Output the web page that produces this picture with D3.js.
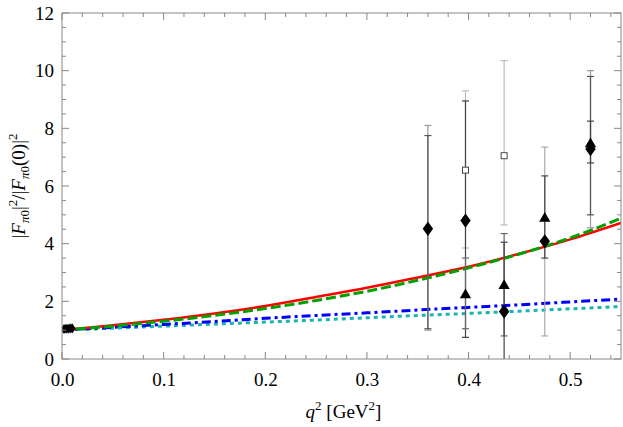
<!DOCTYPE html>
<html><head><meta charset="utf-8">
<script src="https://cdn.jsdelivr.net/npm/d3@7"></script>
<style>body{margin:0;background:#fff}svg{display:block}</style>
</head><body><svg id="c" width="623" height="427"></svg>
<script>
// ---- data ----
const qGrid   = [0, 0.05, 0.1, 0.15, 0.2, 0.25, 0.3, 0.35, 0.4, 0.45, 0.5, 0.55];
const redVals   = [1.0, 1.17, 1.36, 1.58, 1.84, 2.15, 2.47, 2.83, 3.20, 3.65, 4.15, 4.72];
const greenVals = [1.0, 1.14, 1.31, 1.51, 1.75, 2.03, 2.35, 2.73, 3.16, 3.64, 4.20, 4.88];
const blueVals  = [1.0, 1.10, 1.20, 1.30, 1.41, 1.51, 1.60, 1.70, 1.79, 1.88, 1.98, 2.08];
const cyanVals  = [1.0, 1.07, 1.14, 1.21, 1.28, 1.35, 1.43, 1.51, 1.58, 1.66, 1.74, 1.82];

// error bars: q2, low, high, shade
const errQ     = [0.360, 0.360, 0.397, 0.397, 0.397, 0.435, 0.435, 0.435, 0.475, 0.475, 0.520, 0.520, 0.520];
const errLo    = [1.00,  1.05,  3.85,  0.75,  1.05,  4.65,  0.80, -0.50,  0.80,  3.50,  4.55,  5.00,  6.80];
const errHi    = [8.10,  7.75,  9.30,  8.95,  3.50, 10.35,  4.35,  4.05,  7.35,  6.35, 10.00,  9.80,  8.25];
const errShade = ["#999","#555","#bbb","#444","#666","#bbb","#666","#444","#aaa","#444","#999","#555","#444"];

const diamondQ = [0.360, 0.397, 0.435, 0.475, 0.520];
const diamondV = [4.52, 4.80, 1.65, 4.08, 7.28];
const triQ     = [0.397, 0.435, 0.475, 0.520];
const triV     = [2.22, 2.54, 4.87, 7.46];
const squareQ  = [0.397, 0.435];
const squareV  = [6.55, 7.05];
const lowQ     = [0.002, 0.004, 0.006, 0.008, 0.010];
const lowV     = [1.04, 1.05, 1.05, 1.06, 1.06];

const xTicks = [0.0, 0.1, 0.2, 0.3, 0.4, 0.5];
const yTicks = [0, 2, 4, 6, 8, 10, 12];

// ---- layout ----
const svg = d3.select("#c");
const L = 62, R = 621, T = 13, B = 359;
const x = d3.scaleLinear().domain([0, 0.55]).range([L, R]);
const y = d3.scaleLinear().domain([0, 12]).range([B, T]);
const font = "'Liberation Serif', 'Times New Roman', serif";
const frameCol = "#888";

const defs = svg.append("defs");
defs.append("clipPath").attr("id","clip").append("rect")
  .attr("x", L).attr("y", T).attr("width", R-L).attr("height", B-T);

const plot = svg.append("g").attr("clip-path","url(#clip)");

// curves
const line = d3.line().x(d => x(d[0])).y(d => y(d[1])).curve(d3.curveMonotoneX);
const series = [
  {v: cyanVals,  c: "#1ab3b3", w: 3,   dash: "4,4"},
  {v: blueVals,  c: "#0000ff", w: 3,   dash: "9,4,3,4"},
  {v: redVals,   c: "#ff0000", w: 2.5, dash: null},
  {v: greenVals, c: "#00a000", w: 3,   dash: "10,4"}
];
series.forEach(s => {
  plot.append("path").datum(qGrid.map((q,i)=>[q, s.v[i]]))
    .attr("d", line).attr("fill","none").attr("stroke", s.c)
    .attr("stroke-width", s.w).attr("stroke-dasharray", s.dash);
});

// error bars
errQ.forEach((q,i) => {
  const g = plot.append("g").attr("stroke", errShade[i]).attr("stroke-width", 1.2);
  g.append("line").attr("x1", x(q)).attr("x2", x(q)).attr("y1", y(errLo[i])).attr("y2", y(errHi[i]));
  [errLo[i], errHi[i]].forEach(v => {
    g.append("line").attr("x1", x(q)-3.5).attr("x2", x(q)+3.5).attr("y1", y(v)).attr("y2", y(v));
  });
});

// markers
const sym = (type, size) => d3.symbol().type(type).size(size)();
diamondQ.forEach((q,i) => {
  plot.append("path").attr("d", sym(d3.symbolDiamond, 60))
    .attr("transform", `translate(${x(q)},${y(diamondV[i])}) scale(1.25,1)`).attr("fill","#000");
});
triQ.forEach((q,i) => {
  plot.append("path").attr("d", sym(d3.symbolTriangle, 55))
    .attr("transform", `translate(${x(q)},${y(triV[i])})`).attr("fill","#000");
});
squareQ.forEach((q,i) => {
  plot.append("rect").attr("x", x(q)-3).attr("y", y(squareV[i])-3).attr("width",6).attr("height",6)
    .attr("fill","#fff").attr("stroke","#444").attr("stroke-width",1);
});
lowQ.forEach((q,i) => {
  plot.append("line").attr("x1", x(q)).attr("x2", x(q)).attr("y1", y(lowV[i]-0.1)).attr("y2", y(lowV[i]+0.1))
    .attr("stroke","#000").attr("stroke-width",1.2);
  plot.append("path").attr("d", sym(d3.symbolDiamond, 30))
    .attr("transform", `translate(${x(q)},${y(lowV[i])}) scale(1.2,1)`).attr("fill","#000");
});

// frame
svg.append("rect").attr("x", L).attr("y", T).attr("width", R-L).attr("height", B-T)
  .attr("fill","none").attr("stroke", frameCol).attr("stroke-width",1);

// ticks (inward, all sides)
const tg = svg.append("g").attr("stroke", frameCol).attr("stroke-width",1);
d3.range(0, 0.5501, 0.02).forEach(q => {
  const major = Math.abs(q*10 - Math.round(q*10)) < 1e-6;
  const len = major ? 7 : 4;
  tg.append("line").attr("x1", x(q)).attr("x2", x(q)).attr("y1", B).attr("y2", B-len);
  tg.append("line").attr("x1", x(q)).attr("x2", x(q)).attr("y1", T).attr("y2", T+len);
});
d3.range(0, 12.001, 0.5).forEach(v => {
  const major = Math.abs(v/2 - Math.round(v/2)) < 1e-6;
  const len = major ? 7 : 4;
  tg.append("line").attr("x1", L).attr("x2", L+len).attr("y1", y(v)).attr("y2", y(v));
  tg.append("line").attr("x1", R).attr("x2", R-len).attr("y1", y(v)).attr("y2", y(v));
});

// tick labels via axes (tick lines hidden)
const xAxis = d3.axisBottom(x).tickValues(xTicks).tickFormat(d3.format(".1f")).tickSize(0).tickPadding(14);
const gx = svg.append("g").attr("transform", `translate(0,${B})`).call(xAxis);
gx.select(".domain").remove();
gx.attr("font-family", font).attr("font-size", 19);
gx.selectAll("text").attr("fill","#000");
const yAxis = d3.axisLeft(y).tickValues(yTicks).tickFormat(d3.format("d")).tickSize(0).tickPadding(8);
const gy = svg.append("g").attr("transform", `translate(${L},0)`).call(yAxis);
gy.select(".domain").remove();
gy.attr("font-family", font).attr("font-size", 19);
gy.selectAll("text").attr("fill","#000");

// x title
const xt = svg.append("text").attr("x", (L+R)/2 + 2).attr("y", 418).attr("text-anchor","middle")
  .attr("font-family", font).attr("font-size", 19).attr("fill","#000");
xt.append("tspan").attr("font-style","italic").text("q");
xt.append("tspan").attr("dy",-8).attr("font-size",13).text("2");
xt.append("tspan").attr("dy",8).text(" [GeV");
xt.append("tspan").attr("dy",-8).attr("font-size",13).text("2");
xt.append("tspan").attr("dy",8).text("]");

// y title
const yt = svg.append("text").attr("transform", `translate(25,${(T+B)/2}) rotate(-90)`)
  .attr("text-anchor","middle").attr("font-family", font).attr("font-size", 19).attr("fill","#000");
yt.append("tspan").text("|");
yt.append("tspan").attr("font-style","italic").text("F");
yt.append("tspan").attr("dy",4).attr("font-size",13).attr("font-style","italic").text("π");
yt.append("tspan").attr("font-size",13).text("0");
yt.append("tspan").attr("dy",-4).text("|");
yt.append("tspan").attr("dy",-8).attr("font-size",13).text("2");
yt.append("tspan").attr("dy",8).text("/|");
yt.append("tspan").attr("font-style","italic").text("F");
yt.append("tspan").attr("dy",4).attr("font-size",13).attr("font-style","italic").text("π");
yt.append("tspan").attr("font-size",13).text("0");
yt.append("tspan").attr("dy",-4).text("(0)|");
yt.append("tspan").attr("dy",-8).attr("font-size",13).text("2");
</script></body></html>
